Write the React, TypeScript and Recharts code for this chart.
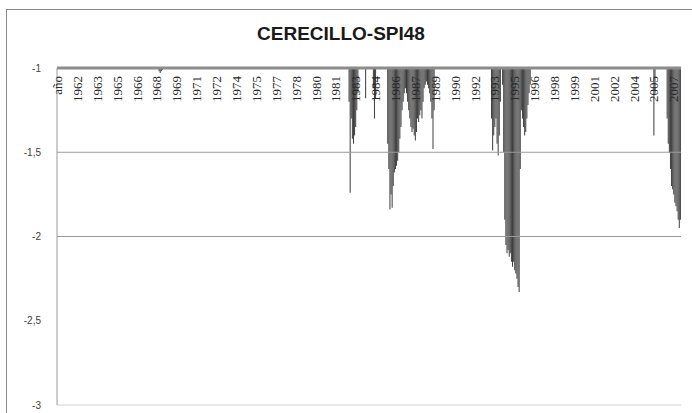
import { BarChart, Bar, XAxis, YAxis, ReferenceLine } from 'recharts'

// monthly series, Jan 1961 - Dec 2007, first row is the sheet header
const headerLabel = 'año'
const firstYear = 1961
const lastYear = 2007

const yTicks = [-3, -2.5, -2, -1.5, -1]
const gridValues = [-1.5, -2]

// drought spells (SPI48 below -1), each starts at the given year / month
const spellAug1968 = [-1.02, -1.03, -1.02, -1.01]
const spellDec1982 = [-1.2, -1.74, -1.3, -1.42, -1.45, -1.4, -1.35, -1.25, -1.15]
const spellMar1984 = [-1.18]
const spellOct1984 = [-1.12, -1.3, -1.18]
const spellNov1985 = [
  -1.45, -1.6, -1.84, -1.75, -1.83, -1.7, -1.62, -1.6, -1.58, -1.55, -1.5, -1.42, -1.35, -1.25,
  -1.2, -1.15, -1.12, -1.15, -1.2, -1.25, -1.3, -1.35, -1.38, -1.36, -1.4, -1.43, -1.38, -1.3,
  -1.32, -1.28, -1.25, -1.3, -1.2, -1.12, -1.1, -1.08, -1.1, -1.12, -1.15, -1.2, -1.3, -1.48, -1.25,
]
const spellSep1993 = [-1.3, -1.49, -1.4, -1.35, -1.3, -1.45, -1.52, -1.4, -1.2]
const spellJul1994 = [
  -1.1, -1.5, -1.9, -2.05, -2.1, -2.08, -2.12, -2.1, -2.15, -2.18, -2.15, -2.2, -2.22, -2.25,
  -2.3, -2.33, -1.6, -1.25, -1.3, -1.35, -1.4, -1.38, -1.3, -1.22, -1.15, -1.1,
]
const spellDec2005 = [-1.4, -1.15]
const spellDec2006 = [-1.3, -1.45, -1.5, -1.6, -1.7, -1.72, -1.75, -1.8, -1.82, -1.85, -1.9, -1.95, -1.9]

const spells = [
  { year: 1968, month: 8, values: spellAug1968 },
  { year: 1982, month: 12, values: spellDec1982 },
  { year: 1984, month: 3, values: spellMar1984 },
  { year: 1984, month: 10, values: spellOct1984 },
  { year: 1985, month: 11, values: spellNov1985 },
  { year: 1993, month: 9, values: spellSep1993 },
  { year: 1994, month: 7, values: spellJul1994 },
  { year: 2005, month: 12, values: spellDec2005 },
  { year: 2006, month: 12, values: spellDec2006 },
]

const monthIndex = (year: number, month: number) => (year - firstYear) * 12 + month

const data: { label: string; spi: number | null }[] = [{ label: headerLabel, spi: null }]
for (let y = firstYear; y <= lastYear; y++) {
  for (let m = 1; m <= 12; m++) data.push({ label: String(y), spi: null })
}
spells.forEach((s) => {
  const start = monthIndex(s.year, s.month)
  s.values.forEach((v, k) => {
    if (data[start + k]) data[start + k].spi = v
  })
})

const plotTop = 68

function TopTick(props: any) {
  const { x, payload } = props
  const y = plotTop + 8
  return (
    <text
      x={x}
      y={y}
      transform={`rotate(-90, ${x}, ${y})`}
      textAnchor="end"
      dy="0.35em"
      fontSize={13}
      fontFamily="'Liberation Serif', serif"
      fill="#2a2a2a"
    >
      {payload.value}
    </text>
  )
}

export default function App() {
  return (
    <div style={{ position: 'absolute', left: 0, top: 0, width: 692, height: 413, background: '#fff', overflow: 'hidden' }}>
      <div
        style={{
          position: 'absolute',
          left: 6,
          top: 9,
          width: 690,
          height: 410,
          border: '1px solid #8a8a8a',
          boxSizing: 'border-box',
        }}
      />
      <div
        style={{
          position: 'absolute',
          left: 0,
          top: 22,
          width: 682,
          textAlign: 'center',
          fontFamily: "'Liberation Sans', Arial, sans-serif",
          fontWeight: 'bold',
          fontSize: 19,
          lineHeight: '24px',
          color: '#1a1a1a',
        }}
      >
        CERECILLO-SPI48
      </div>
      <BarChart
        width={692}
        height={413}
        data={data}
        margin={{ top: 38, right: 11, left: 0, bottom: 8 }}
        barCategoryGap="0%"
        style={{ position: 'absolute', left: 0, top: 0 }}
      >
        <XAxis
          dataKey="label"
          orientation="top"
          height={30}
          interval={17}
          tickLine={false}
          axisLine={{ stroke: '#8c8c8c', strokeWidth: 3 }}
          tick={<TopTick />}
        />
        <YAxis
          type="number"
          domain={[-3, -1]}
          ticks={yTicks}
          width={57}
          tickLine={false}
          tickMargin={10}
          axisLine={{ stroke: '#9a9a9a' }}
          tickFormatter={(v: number) => String(v).replace('.', ',')}
          tick={{ fontSize: 10, fill: '#404040', fontFamily: "'Liberation Sans', Arial, sans-serif" }}
        />
        {gridValues.map((g) => (
          <ReferenceLine key={g} y={g} stroke="#9a9a9a" />
        ))}
        <ReferenceLine y={-3} stroke="#d0d0d0" />
        <Bar dataKey="spi" fill="#3c3c3c" isAnimationActive={false} />
      </BarChart>
    </div>
  )
}
